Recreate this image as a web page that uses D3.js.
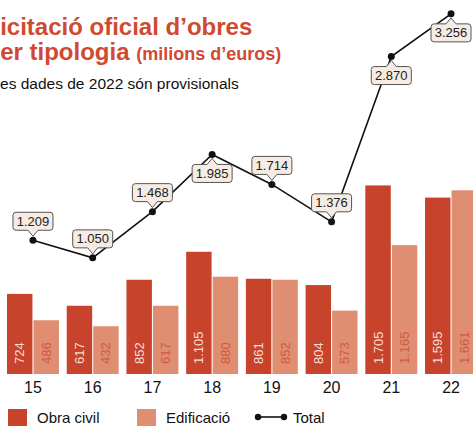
<!DOCTYPE html>
<html>
<head>
<meta charset="utf-8">
<script src="https://cdn.jsdelivr.net/npm/d3@7"></script>
<style>
  body { margin: 0; background: #fff; }
  svg { display: block; font-family: "Liberation Sans", Arial, sans-serif; }
</style>
</head>
<body>
<svg id="chart"></svg>
<script>
// Licitació oficial d'obres per tipologia (milions d'euros)
const years = ["15", "16", "17", "18", "19", "20", "21", "22"];
const obraCivil = [724, 617, 852, 1105, 861, 804, 1705, 1595];
const edificacio = [486, 432, 617, 880, 852, 573, 1165, 1661];
const total = [1209, 1050, 1468, 1985, 1714, 1376, 2870, 3256];
// where the callout sits relative to the point
const labelSide = ["up", "up", "up", "down", "up", "up", "down", "down"];

const width = 473, height = 427;
const red = "#c8432b", salmon = "#e08e71";
const fmt = v => d3.format(",")(v).replace(/,/g, ".");

const svg = d3.select("#chart")
    .attr("width", width)
    .attr("height", height);

// titles (chart is cropped on the left, so they start off-canvas)
svg.append("text")
    .attr("x", -14.5).attr("y", 35)
    .attr("fill", "#cf4a30")
    .attr("font-weight", "bold")
    .attr("font-size", 24)
    .text("Licitació oficial d’obres");

const t2 = svg.append("text")
    .attr("x", -14.5).attr("y", 60)
    .attr("fill", "#cf4a30")
    .attr("font-weight", "bold")
    .attr("font-size", 24);
t2.append("tspan").text("per tipologia ");
t2.append("tspan").attr("font-size", 18).text("(milions d’euros)");

svg.append("text")
    .attr("x", -8.6).attr("y", 89)
    .attr("fill", "#111")
    .attr("font-size", 15.5)
    .text("Les dades de 2022 són provisionals");

// scales
const x = d3.scaleBand()
    .domain(years)
    .range([7, 477])
    .paddingInner(0.13)
    .paddingOuter(0);

const xSub = d3.scaleBand()
    .domain(["obra", "edif"])
    .range([0, x.bandwidth()])
    .paddingInner(0.04);

const y = d3.scaleLinear()
    .domain([0, 3300])
    .range([374, 9]);

const rows = years.map((yr, i) => ({
    year: yr,
    bars: [
        {key: "obra", value: obraCivil[i]},
        {key: "edif", value: edificacio[i]}
    ]
}));

const groups = svg.append("g").selectAll("g")
    .data(rows)
    .join("g")
    .attr("transform", d => `translate(${x(d.year)},0)`);

groups.selectAll("rect")
    .data(d => d.bars)
    .join("rect")
    .attr("x", d => xSub(d.key))
    .attr("y", d => y(d.value))
    .attr("width", xSub.bandwidth())
    .attr("height", d => y(0) - y(d.value))
    .attr("fill", d => d.key === "obra" ? red : salmon);

// values inside bars, rotated
groups.selectAll("text.val")
    .data(d => d.bars)
    .join("text")
    .attr("class", "val")
    .attr("transform", d => `translate(${xSub(d.key) + xSub.bandwidth() / 2 + 4.5},${y(0) - 10}) rotate(-90)`)
    .attr("font-size", 13)
    .attr("fill", d => d.key === "obra" ? "#f6ddd6" : "#cf5a40")
    .text(d => fmt(d.value));

// year axis
const xAxis = svg.append("g")
    .attr("transform", `translate(0,${y(0)})`)
    .call(d3.axisBottom(x).tickSize(0).tickPadding(8));
xAxis.select(".domain").remove();
xAxis.selectAll("text")
    .attr("font-size", 16)
    .attr("font-family", "Liberation Sans, Arial, sans-serif")
    .attr("fill", "#111");

// total line
const pts = total.map((v, i) => ({v, side: labelSide[i], cx: x(years[i]) + x.bandwidth() / 2, cy: y(v)}));

svg.append("path")
    .datum(pts)
    .attr("fill", "none")
    .attr("stroke", "#111")
    .attr("stroke-width", 1.6)
    .attr("d", d3.line().x(d => d.cx).y(d => d.cy));

svg.append("g").selectAll("circle")
    .data(pts)
    .join("circle")
    .attr("cx", d => d.cx)
    .attr("cy", d => d.cy)
    .attr("r", 3.5)
    .attr("fill", "#111");

// callouts
function callout(d) {
    const w = 40, h = 18, r = 3, pw = 5, ph = 6;
    const l = d.cx - w / 2, rt = d.cx + w / 2;
    if (d.side === "up") {
        const b = d.cy - 4 - ph, t = b - h;
        return `M${l + r},${t} H${rt - r} Q${rt},${t} ${rt},${t + r} V${b - r} Q${rt},${b} ${rt - r},${b}` +
            ` H${d.cx + pw} L${d.cx},${b + ph} L${d.cx - pw},${b} H${l + r} Q${l},${b} ${l},${b - r} V${t + r} Q${l},${t} ${l + r},${t} Z`;
    }
    const t = d.cy + 4 + ph, b = t + h;
    return `M${l + r},${t} H${d.cx - pw} L${d.cx},${t - ph} L${d.cx + pw},${t} H${rt - r} Q${rt},${t} ${rt},${t + r} V${b - r} Q${rt},${b} ${rt - r},${b}` +
        ` H${l + r} Q${l},${b} ${l},${b - r} V${t + r} Q${l},${t} ${l + r},${t} Z`;
}

const labels = svg.append("g").selectAll("g")
    .data(pts)
    .join("g");

labels.append("path")
    .attr("d", callout)
    .attr("fill", "#f7ece3")
    .attr("stroke", "#555")
    .attr("stroke-width", 1);

labels.append("text")
    .attr("x", d => d.cx)
    .attr("y", d => d.side === "up" ? d.cy - 10 - 9 + 4.5 : d.cy + 10 + 9 + 4.5)
    .attr("text-anchor", "middle")
    .attr("font-size", 13)
    .attr("fill", "#222")
    .text(d => fmt(d.v));

// legend
const lg = svg.append("g").attr("transform", "translate(0,417)");
lg.append("rect").attr("x", 8).attr("y", -8).attr("width", 19).attr("height", 17).attr("fill", red);
lg.append("text").attr("x", 37).attr("y", 5.5).attr("font-size", 15).attr("fill", "#111").text("Obra civil");
lg.append("rect").attr("x", 137).attr("y", -8).attr("width", 19).attr("height", 17).attr("fill", salmon);
lg.append("text").attr("x", 166).attr("y", 5.5).attr("font-size", 15).attr("fill", "#111").text("Edificació");
lg.append("line").attr("x1", 258).attr("x2", 284).attr("y1", 0).attr("y2", 0).attr("stroke", "#111").attr("stroke-width", 1.6);
lg.selectAll("circle").data([258, 284]).join("circle")
    .attr("cx", d => d).attr("cy", 0).attr("r", 3.2).attr("fill", "#111");
lg.append("text").attr("x", 293).attr("y", 5.5).attr("font-size", 15).attr("fill", "#111").text("Total");
</script>
</body>
</html>
